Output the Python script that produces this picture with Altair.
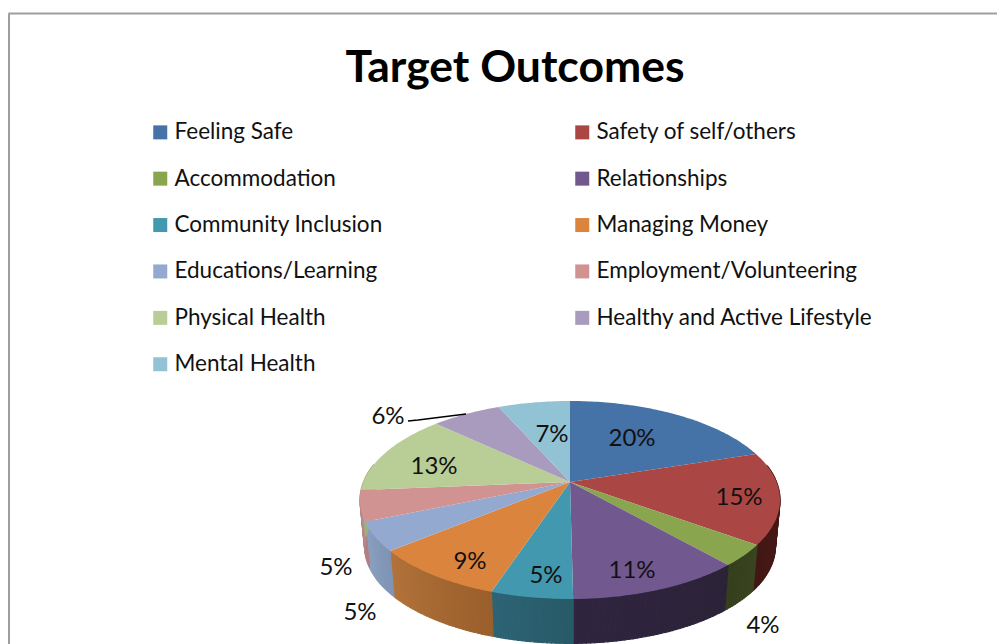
import math
import altair as alt

# ---- data ----
CATEGORIES = ["Feeling Safe", "Safety of self/others", "Accommodation", "Relationships",
              "Community Inclusion", "Managing Money", "Educations/Learning",
              "Employment/Volunteering", "Physical Health", "Healthy and Active Lifestyle",
              "Mental Health"]
VALUES = [20.0, 15.0, 3.5, 11.3, 5.3, 8.9, 4.7, 5.0, 13.3, 6.4, 6.6]
LABELS = ["20%", "15%", "4%", "11%", "5%", "9%", "5%", "5%", "13%", "6%", "7%"]
TOP_COLORS = ["#4572A7", "#AA4643", "#89A54E", "#71588F", "#4198AF", "#DB843D",
              "#93A9CF", "#D19392", "#B9CD96", "#A99BBD", "#92C3D5"]
WALL_FROM = ["#3a5f8a", "#4e1c1a", "#3a4420", "#2c2338", "#285a68", "#9a5f2c",
             "#7f93b4", "#b07f7f", "#a0b080", "#8a7ea0", "#7aa5b5"]
WALL_TO = ["#3a5f8a", "#421815", "#363f1e", "#2f2540", "#2d6475", "#b2733a",
           "#8ba0c0", "#b88a8a", "#a0b080", "#8a7ea0", "#7aa5b5"]

# label anchors, page pixels
LABEL_X = [632, 739, 763, 632, 546, 470, 360, 336, 434, 388, 552]
LABEL_Y = [439, 498, 626, 571, 576, 562, 613, 568, 467, 417, 435]
LEADER_X = [408, 418, 466]
LEADER_Y = [421, 420, 414]

W, H = 989, 636
OX, OY = 8, 8
CX, CY = 570 - OX, 482 - OY
A, B, K = 206.5, 95.7, 0.1818
WALL_SCALE, WALL_H = 0.978, 47


def rim(theta, bottom=False):
    t = math.radians(theta)
    u, v = math.sin(t), -math.cos(t)
    d = 1 - K * v
    x, y = A * u / d, B * v / d
    if bottom:
        return [CX + x * WALL_SCALE, CY + y * WALL_SCALE + WALL_H]
    return [CX + x, CY + y]


def mix(c1, c2, f):
    a = [int(c1[i:i + 2], 16) for i in (1, 3, 5)]
    b = [int(c2[i:i + 2], 16) for i in (1, 3, 5)]
    return "#" + "".join(f"{round(p + (q - p) * f):02x}" for p, q in zip(a, b))


def feature(coords, **props):
    return {"type": "Feature", "properties": props,
            "geometry": {"type": "Polygon", "coordinates": [coords + [coords[0]]]}}


tops, walls = [], []
start = 0.0
for name, val, c, c1, c2 in zip(CATEGORIES, VALUES, TOP_COLORS, WALL_FROM, WALL_TO):
    end = start + val * 3.6
    n = max(2, int(end - start))
    angles = [start + (end - start) * i / n for i in range(n + 1)]
    tops.append(feature([[CX, CY]] + [rim(t) for t in angles], name=name))
    for i in range(n):
        t0, t1 = angles[i], angles[i + 1]
        if 80 < t1 and t0 < 280:
            col = mix(c1, c2, i / max(1, n - 1))
            walls.append(feature([rim(t0), rim(t1), rim(t1, True), rim(t0, True)], col=col))
    start = end

proj = dict(type="identity", scale=1, translate=[0, 0])
xs = alt.Scale(domain=[0, W], nice=False, zero=False)
ys = alt.Scale(domain=[H, 0], nice=False, zero=False)

wall_layer = alt.Chart(alt.Data(values=walls)).mark_geoshape(strokeWidth=1.2).encode(
    fill=alt.Fill("properties.col:N", scale=None, legend=None),
    stroke=alt.Stroke("properties.col:N", scale=None, legend=None),
).project(**proj)

top_layer = alt.Chart(alt.Data(values=tops)).mark_geoshape().encode(
    color=alt.Color("properties.name:N",
                    scale=alt.Scale(domain=CATEGORIES, range=TOP_COLORS),
                    sort=CATEGORIES,
                    legend=alt.Legend(title=None, orient="none", legendX=141, legendY=113,
                                      direction="horizontal", columns=2, columnPadding=188,
                                      rowPadding=23.4, symbolType="square", symbolSize=196,
                                      symbolStrokeWidth=0, symbolOpacity=1, labelFont="Lato",
                                      labelFontSize=22.5, labelColor="#111111", labelLimit=500,
                                      labelOffset=3, padding=0)),
).project(**proj)

labels = alt.Chart(alt.Data(values=[
    {"x": x - OX, "y": y - OY, "t": t} for x, y, t in zip(LABEL_X, LABEL_Y, LABELS)
])).mark_text(font="Lato", fontSize=24, color="#111111", align="center", baseline="middle").encode(
    x=alt.X("x:Q", scale=xs, axis=None), y=alt.Y("y:Q", scale=ys, axis=None), text="t:N")

leader = alt.Chart(alt.Data(values=[
    {"x": x - OX, "y": y - OY, "o": i} for i, (x, y) in enumerate(zip(LEADER_X, LEADER_Y))
])).mark_line(color="#000000", strokeWidth=1.5).encode(
    x=alt.X("x:Q", scale=xs, axis=None), y=alt.Y("y:Q", scale=ys, axis=None), order="o:Q")

frame_top = alt.Chart(alt.Data(values=[{"x": 0.5, "x2": W, "y": 5.5}])).mark_rule(color="#9e9e9e", strokeWidth=2).encode(
    x=alt.X("x:Q", scale=xs, axis=None), x2="x2:Q", y=alt.Y("y:Q", scale=ys, axis=None))
frame_left = alt.Chart(alt.Data(values=[{"x": 1, "y": 5.5, "y2": H}])).mark_rule(color="#9e9e9e", strokeWidth=2).encode(
    x=alt.X("x:Q", scale=xs, axis=None), y=alt.Y("y:Q", scale=ys, axis=None), y2="y2:Q")

chart = alt.layer(frame_top, frame_left, wall_layer, top_layer, leader, labels).properties(
    width=W, height=H, padding=0, background="#ffffff", autosize=alt.AutoSizeParams(type="none"),
    title=alt.TitleParams("Target Outcomes", font="Lato", fontSize=44.5, fontWeight="bold",
                          color="#000000", anchor="middle", dx=12.5, dy=87),
).configure_view(stroke=None)

chart.save("out.html", embed_options={"renderer": "svg", "actions": False})
